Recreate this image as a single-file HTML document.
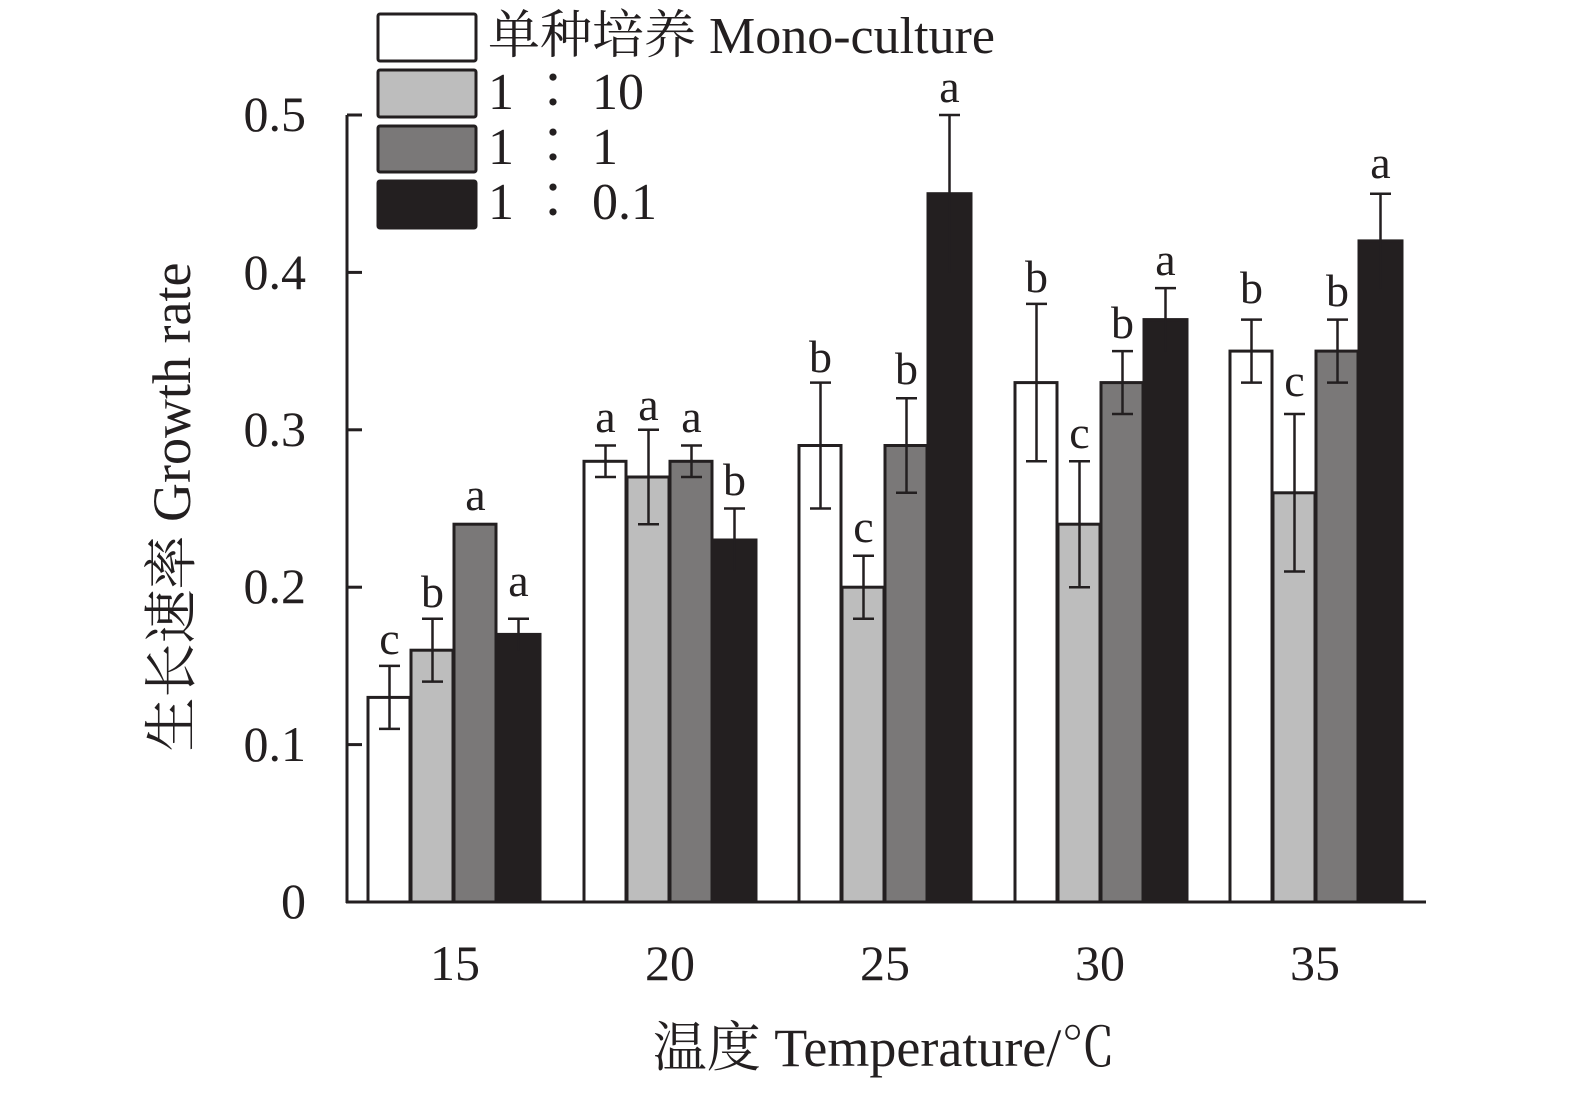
<!DOCTYPE html>
<html><head><meta charset="utf-8"><style>
body{margin:0;background:#fff}
svg{display:block}
text{font-family:"Liberation Serif","Noto Serif CJK SC",serif;fill:#231f20}
</style></head><body>
<svg width="1575" height="1093" viewBox="0 0 1575 1093" xmlns="http://www.w3.org/2000/svg">
<g stroke="#231f20" stroke-width="3">
<rect x="378" y="14" width="98" height="47" fill="#fff" rx="2"/>
<rect x="378" y="70" width="98" height="47" fill="#bdbdbd" rx="2"/>
<rect x="378" y="126" width="98" height="46" fill="#7a7878" rx="2"/>
<rect x="378" y="181" width="98" height="47" fill="#231f20" rx="2"/>
<line x1="347" y1="115" x2="347" y2="903"/>
<line x1="346" y1="902" x2="1426" y2="902"/>
<line x1="347" y1="115" x2="362" y2="115"/>
<line x1="347" y1="272.4" x2="362" y2="272.4"/>
<line x1="347" y1="429.8" x2="362" y2="429.8"/>
<line x1="347" y1="587.2" x2="362" y2="587.2"/>
<line x1="347" y1="744.6" x2="362" y2="744.6"/>
</g>
<g font-size="50" text-anchor="end">
<text x="306" y="918">0</text>
<text x="306" y="761">0.1</text>
<text x="306" y="603">0.2</text>
<text x="306" y="446">0.3</text>
<text x="306" y="289">0.4</text>
<text x="306" y="131">0.5</text>
</g>
<g font-size="50" text-anchor="middle">
<text x="455" y="980">15</text>
<text x="670" y="980">20</text>
<text x="885" y="980">25</text>
<text x="1100" y="980">30</text>
<text x="1315" y="980">35</text>
</g>
<g font-size="54" text-anchor="middle">
<text x="884" y="1066">温度 Temperature/℃</text>
<text transform="translate(190,507) rotate(-90)">生长速率 Growth rate</text>
</g>
<g font-size="52">
<text x="488" y="53">单种培养 Mono-culture</text>
<text x="488" y="109">1 ∶ 10</text>
<text x="488" y="164">1 ∶ 1</text>
<text x="488" y="219">1 ∶ 0.1</text>
</g>
<g stroke="#231f20" stroke-width="3">
<rect x="368" y="697.4" width="42" height="204.6" fill="#fff"/>
<rect x="411" y="650.2" width="42" height="251.8" fill="#bdbdbd"/>
<rect x="454" y="524.2" width="42" height="377.8" fill="#7a7878"/>
<rect x="497" y="634.4" width="43" height="267.6" fill="#231f20"/>
<rect x="584" y="461.3" width="42" height="440.7" fill="#fff"/>
<rect x="627" y="477" width="42" height="425" fill="#bdbdbd"/>
<rect x="670" y="461.3" width="42" height="440.7" fill="#7a7878"/>
<rect x="713" y="540" width="43" height="362" fill="#231f20"/>
<rect x="799" y="445.5" width="42" height="456.5" fill="#fff"/>
<rect x="842" y="587.2" width="42" height="314.8" fill="#bdbdbd"/>
<rect x="885" y="445.5" width="42" height="456.5" fill="#7a7878"/>
<rect x="928" y="193.7" width="43" height="708.3" fill="#231f20"/>
<rect x="1015" y="382.6" width="42" height="519.4" fill="#fff"/>
<rect x="1058" y="524.2" width="42" height="377.8" fill="#bdbdbd"/>
<rect x="1101" y="382.6" width="42" height="519.4" fill="#7a7878"/>
<rect x="1144" y="319.6" width="43" height="582.4" fill="#231f20"/>
<rect x="1230" y="351.1" width="42" height="550.9" fill="#fff"/>
<rect x="1273" y="492.8" width="42" height="409.2" fill="#bdbdbd"/>
<rect x="1316" y="351.1" width="42" height="550.9" fill="#7a7878"/>
<rect x="1359" y="240.9" width="43" height="661.1" fill="#231f20"/>
</g>
<g stroke="#231f20" stroke-width="2.5" fill="none">
<path d="M389.5 728.9V665.9M379 728.9h21M379 665.9h21"/>
<path d="M432.5 681.6V618.7M422 681.6h21M422 618.7h21"/>
<path d="M518.5 650.2V618.7M508 618.7h21"/>
<path d="M605.5 477V445.5M595 477h21M595 445.5h21"/>
<path d="M648.5 524.2V429.8M638 524.2h21M638 429.8h21"/>
<path d="M691.5 477V445.5M681 477h21M681 445.5h21"/>
<path d="M734.5 571.5V508.5M724 508.5h21"/>
<path d="M820.5 508.5V382.6M810 508.5h21M810 382.6h21"/>
<path d="M863.5 618.7V555.7M853 618.7h21M853 555.7h21"/>
<path d="M906.5 492.8V398.3M896 492.8h21M896 398.3h21"/>
<path d="M949.5 272.4V115M939 115h21"/>
<path d="M1036.5 461.3V303.9M1026 461.3h21M1026 303.9h21"/>
<path d="M1079.5 587.2V461.3M1069 587.2h21M1069 461.3h21"/>
<path d="M1122.5 414V351.1M1112 414h21M1112 351.1h21"/>
<path d="M1165.5 351.1V288.1M1155 288.1h21"/>
<path d="M1251.5 382.6V319.6M1241 382.6h21M1241 319.6h21"/>
<path d="M1294.5 571.5V414M1284 571.5h21M1284 414h21"/>
<path d="M1337.5 382.6V319.6M1327 382.6h21M1327 319.6h21"/>
<path d="M1380.5 288.1V193.7M1370 193.7h21"/>
</g>
<g font-size="46" text-anchor="middle">
<text x="389.5" y="654">c</text>
<text x="432.5" y="607">b</text>
<text x="475.5" y="510">a</text>
<text x="518.5" y="596">a</text>
<text x="605.5" y="432">a</text>
<text x="648.5" y="420">a</text>
<text x="691.5" y="432">a</text>
<text x="734.5" y="495">b</text>
<text x="820.5" y="372">b</text>
<text x="863.5" y="542">c</text>
<text x="906.5" y="384">b</text>
<text x="949.5" y="102">a</text>
<text x="1036.5" y="292">b</text>
<text x="1079.5" y="448">c</text>
<text x="1122.5" y="338">b</text>
<text x="1165.5" y="275">a</text>
<text x="1251.5" y="303">b</text>
<text x="1294.5" y="396">c</text>
<text x="1337.5" y="306">b</text>
<text x="1380.5" y="178">a</text>
</g>
</svg>
</body></html>
